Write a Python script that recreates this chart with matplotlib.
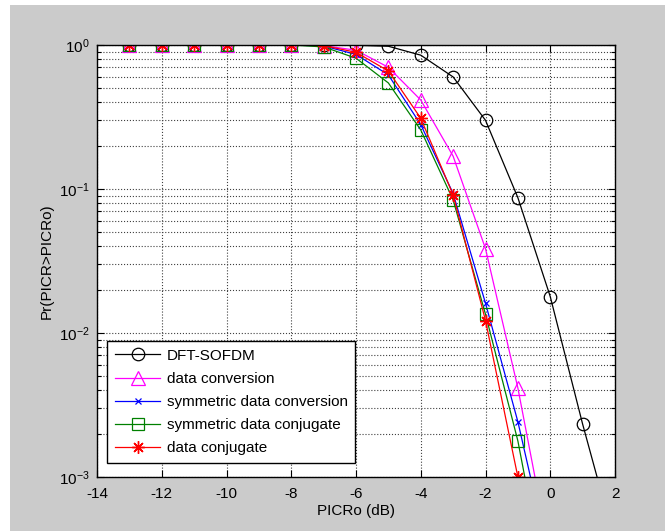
import matplotlib
matplotlib.use("Agg")
import matplotlib.pyplot as plt
from matplotlib.patches import Rectangle
from matplotlib.ticker import LogLocator, NullFormatter, FixedLocator

plt.rcParams['font.family'] = ['Liberation Sans', 'DejaVu Sans']

x_dft = [-13, -12, -11, -10, -9, -8, -7, -6, -5, -4, -3, -2, -1, 0, 1, 2]
y_dft = [1, 1, 1, 1, 1, 1, 1, 0.995, 0.98, 0.85, 0.60, 0.30, 0.087, 0.0179, 0.00233, 0.00035]

x_sym = [-13, -12, -11, -10, -9, -8, -7, -6, -5, -4, -3, -2, -1, 0]
y_conv = [1, 1, 1, 1, 1, 1, 0.99, 0.92, 0.70, 0.415, 0.169, 0.0385, 0.00415, 0.00028]
y_symconv = [1, 1, 1, 1, 1, 1, 0.985, 0.86, 0.62, 0.28, 0.093, 0.0161, 0.00242, 0.00025]
y_symconj = [1, 1, 1, 1, 1, 1, 0.97, 0.81, 0.545, 0.257, 0.084, 0.0135, 0.00178, 0.00012]
y_conj = [1, 1, 1, 1, 1, 1, 0.99, 0.89, 0.66, 0.31, 0.091, 0.0122, 0.001, 0.00008]

labels = ['DFT-SOFDM', 'data conversion', 'symmetric data conversion',
          'symmetric data conjugate', 'data conjugate']
xticks = [-14, -12, -10, -8, -6, -4, -2, 0, 2]

W, H = 665, 531
fig = plt.figure(figsize=(W / 100, H / 100), dpi=100, facecolor='white')
fig.patches.append(Rectangle((10 / W, 0), 1 - 10 / W, 1 - 5 / H, transform=fig.transFigure,
                             facecolor='#cbcbcb', edgecolor='none', zorder=-10))
ax = fig.add_axes([97 / W, 1 - 477 / H, (615 - 97) / W, (477 - 45) / H])
ax.set_facecolor('white')

ax.semilogy(x_dft, y_dft, color='black', marker='o', ms=9, mfc='none', mew=0.9, lw=0.9, label=labels[0])
ax.semilogy(x_sym, y_conv, color='magenta', marker='^', ms=10, mfc='none', mew=0.9, lw=0.9, label=labels[1])
ax.semilogy(x_sym, y_symconv, color='blue', marker='x', ms=5, mfc='none', mew=0.9, lw=0.9, label=labels[2])
ax.semilogy(x_sym, y_symconj, color='green', marker='s', ms=9, mfc='none', mew=0.9, lw=0.9, label=labels[3])
ax.semilogy(x_sym, y_conj, color='red', marker=(8, 2, 0), ms=9, mfc='none', mew=1.0, lw=0.9, label=labels[4])

ax.set_xlim(-14, 2)
ax.set_ylim(1e-3, 1)
ax.xaxis.set_major_locator(FixedLocator(xticks))
ax.set_xticklabels([str(t) for t in xticks])
ax.yaxis.set_major_locator(LogLocator(base=10, numticks=10))
ax.yaxis.set_minor_locator(LogLocator(base=10, subs=range(2, 10), numticks=20))
ax.yaxis.set_minor_formatter(NullFormatter())

ax.grid(True, which='major', axis='both', linestyle=':', color='#404040', lw=0.8)
ax.grid(True, which='minor', axis='y', linestyle=':', color='#404040', lw=0.8)
ax.tick_params(which='both', direction='in', top=True, right=True, labelsize=11, colors='black')
ax.tick_params(which='major', length=5, width=0.8)
ax.tick_params(axis='x', which='major', pad=7)
ax.tick_params(axis='y', which='major', pad=5)
ax.tick_params(which='minor', length=3, width=0.8)
for s in ax.spines.values():
    s.set_linewidth(1.0)

ax.set_xlabel('PICRo (dB)', fontsize=11, labelpad=2)
ax.set_ylabel('Pr(PICR>PICRo)', fontsize=11, labelpad=4)

leg = ax.legend(loc='lower left', bbox_to_anchor=(0.0193, 0.0324), fontsize=11,
                fancybox=False, framealpha=1, edgecolor='black', borderaxespad=0,
                handlelength=3.0, handletextpad=0.4, labelspacing=0.6, borderpad=0.5)
leg.get_frame().set_linewidth(1.0)

fig.savefig('out.png', dpi=100, facecolor='white')
